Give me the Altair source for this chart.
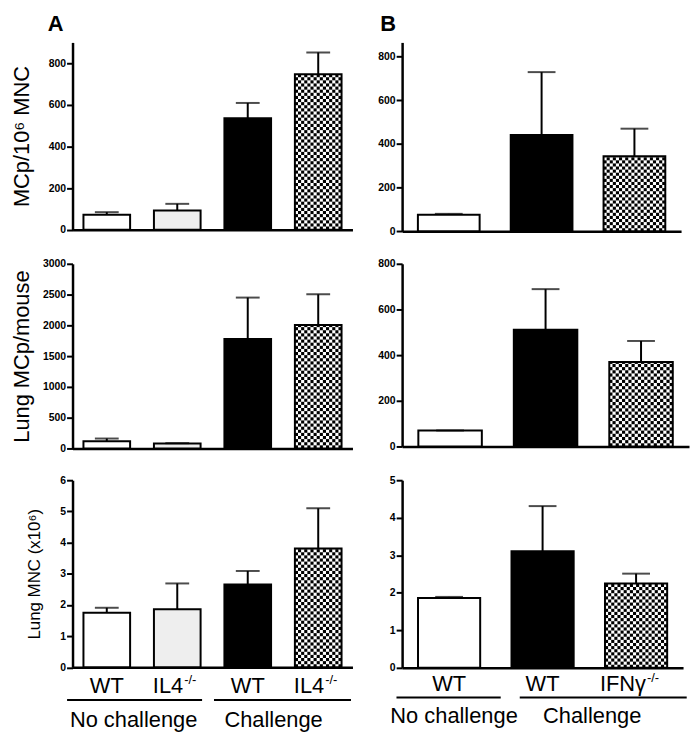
import math
import altair as alt
import pandas as pd

FONT = "Liberation Sans"

# ---------------- data ----------------
A_CATS = ["WT no challenge", "IL4-/- no challenge", "WT challenge", "IL4-/- challenge"]
A_LABEL = ["WT", "IL4", "WT", "IL4"]
A_SUP = ["", "-/-", "", "-/-"]

A1_MEAN = [72, 92, 535, 747]
A1_UPPER = [84, 124, 609, 852]
A2_MEAN = [117, 80, 1780, 2005]
A2_UPPER = [161, 86, 2451, 2504]
A3_MEAN = [1.75, 1.86, 2.66, 3.81]
A3_UPPER = [1.91, 2.69, 3.09, 5.10]

B_CATS = ["WT no challenge (B)", "WT challenge (B)", "IFNg-/- challenge"]
B_LABEL = ["WT", "WT", "IFNγ"]
B_SUP = ["", "", "-/-"]

B1_MEAN = [76, 441, 344]
B1_UPPER = [80, 729, 470]
B2_MEAN = [70, 511, 370]
B2_UPPER = [70, 689, 462]
B3_MEAN = [1.86, 3.11, 2.25]
B3_UPPER = [1.89, 4.31, 2.51]

A_GROUPS = [("No challenge", A_CATS[0], A_CATS[1]), ("Challenge", A_CATS[2], A_CATS[3])]
B_GROUPS = [("No challenge", B_CATS[0], B_CATS[0]), ("Challenge", B_CATS[1], B_CATS[2])]

# ---------------- styles ----------------
FILL = {
    A_CATS[0]: "white", A_CATS[1]: "#eeeeee", A_CATS[2]: "black", A_CATS[3]: "white",
    B_CATS[0]: "white", B_CATS[1]: "black", B_CATS[2]: "white",
}
CHECKER = {A_CATS[3], B_CATS[2]}


def y_axis(ticks, title, title_size, title_x, height):
    kw = dict(values=ticks, format="d", grid=False, domainColor="black", domainWidth=2.5,
              tickColor="black", tickWidth=2, tickSize=6, labelPadding=1,
              labelFont=FONT, labelFontSize=10.5, labelFontWeight="bold", labelColor="black")
    if title:
        kw.update(title=title, titleFont=FONT, titleFontSize=title_size, titleFontWeight="normal",
                  titleColor="black", titleX=title_x, titleY=height / 2, titleBaseline="middle",
                  titleAngle=270, titleAlign="center")
    else:
        kw.update(title=None)
    return alt.Axis(**kw)


def panel(cats, means, uppers, dmax, ticks, width, height, pi, po, ncols, cap,
          ytitle=None, title_size=22, title_x=-47, letter=None, letter_dx=-24,
          bottom=None):
    n = len(cats)
    step = width / (n - pi + 2 * po)
    bw = step * (1 - pi)
    cell_px = bw / ncols
    cell_h = cell_px * dmax / height

    df = pd.DataFrame({"cat": cats, "mean": means, "upper": uppers,
                       "fill": [FILL[c] for c in cats]})
    xs = alt.Scale(domain=cats, paddingInner=pi, paddingOuter=po)
    ys = alt.Scale(domain=[0, dmax], nice=False)
    xax = alt.Axis(labels=False, ticks=False, title=None, domainColor="black", domainWidth=2.5)
    yax = y_axis(ticks, ytitle, title_size, title_x, height)
    X = alt.X("cat:N", scale=xs, axis=xax, sort=cats)

    def Y(f):
        return alt.Y(f, type="quantitative", scale=ys, axis=yax)

    base = alt.Chart(df)
    bars = base.mark_bar(strokeWidth=0).encode(x=X, y=Y("mean"), color=alt.Color("fill:N", scale=None))

    cells = []
    for c, m in zip(cats, means):
        if c in CHECKER:
            nrows = math.ceil(m / cell_h)
            for r in range(nrows):
                for k in range(ncols):
                    if (r + k) % 2 == 0:
                        cells.append({"cat": c, "col": k, "y0": r * cell_h,
                                      "y1": min((r + 1) * cell_h, m)})
    cdf = pd.DataFrame(cells)
    checker = alt.Chart(cdf).mark_rect(color="black", strokeWidth=0).encode(
        x=X,
        xOffset=alt.XOffset("col:O", scale=alt.Scale(domain=list(range(ncols)),
                                                      paddingInner=0, paddingOuter=0)),
        y=Y("y0"), y2="y1")

    outline = base.mark_bar(fillOpacity=0, stroke="black", strokeWidth=2).encode(x=X, y=Y("mean"))
    err = base.mark_rule(color="black", strokeWidth=2).encode(x=X, y=Y("mean"), y2="upper")
    caps = base.mark_tick(color="black", size=cap, thickness=2).encode(x=X, y=Y("upper"))

    layers = [bars, checker, outline, err, caps]

    if letter:
        layers.append(alt.Chart(pd.DataFrame({"t": [letter]})).mark_text(
            font=FONT, fontSize=22, fontWeight="bold", align="left", baseline="top", color="black"
        ).encode(x=alt.value(letter_dx), y=alt.value(-29), text="t:N"))

    if bottom is not None:
        labels, sups, groups, gstyle, yl = bottom
        ldf = pd.DataFrame({"cat": cats, "label": labels, "sup": sups})
        lb = alt.Chart(ldf)
        plain = lb.transform_filter("datum.sup == ''").mark_text(
            font=FONT, fontSize=22, baseline="alphabetic", align="center", color="black"
        ).encode(x=X, y=alt.value(height + yl["label"]), text="label:N")
        main = lb.transform_filter("datum.sup != ''").mark_text(
            font=FONT, fontSize=22, baseline="alphabetic", align="right", color="black",
            dx=yl["supdx"]).encode(x=X, y=alt.value(height + yl["label"]), text="label:N")
        sup = lb.transform_filter("datum.sup != ''").mark_text(
            font=FONT, fontSize=13, baseline="alphabetic", align="left", color="black",
            dx=yl["supdx"] + 1).encode(x=X, y=alt.value(height + yl["sup"]), text="sup:N")
        layers += [plain, main, sup]
        for (glabel, c1, c2), (offl, offr, ldx) in zip(groups, gstyle):
            gdf = pd.DataFrame({"cat": [c1], "cat2": [c2], "label": [glabel]})
            g = alt.Chart(gdf)
            line = g.mark_rule(color="black", strokeWidth=2, xOffset=offl, x2Offset=offr).encode(
                x=X, x2="cat2:N", y=alt.value(height + yl["line"]))
            gtxt = g.mark_text(font=FONT, fontSize=22, baseline="alphabetic", align="center",
                               color="black", dx=ldx).encode(
                x=X, y=alt.value(height + yl["group"]), text="label:N")
            layers += [line, gtxt]

    return alt.layer(*layers).properties(width=width, height=height)


A_PI, A_PO = 0.338, 0.155
B_PI, B_PO = 0.335, 0.17

a1 = panel(A_CATS, A1_MEAN, A1_UPPER, 900, [0, 200, 400, 600, 800], 282, 188.6, A_PI, A_PO, 15, 24,
           ytitle="MCp/10⁶ MNC", title_size=22, title_x=-51, letter="A", letter_dx=-25)
a2 = panel(A_CATS, A2_MEAN, A2_UPPER, 3000, [0, 500, 1000, 1500, 2000, 2500, 3000], 282, 186, A_PI, A_PO, 15, 24,
           ytitle="Lung MCp/mouse", title_size=22, title_x=-51)
a3 = panel(A_CATS, A3_MEAN, A3_UPPER, 6, [0, 1, 2, 3, 4, 5, 6], 282, 188.5, A_PI, A_PO, 15, 24,
           ytitle="Lung MNC (x10⁶)", title_size=17, title_x=-38,
           bottom=(A_LABEL, A_SUP, A_GROUPS, [(-40, 25, 27), (-34, 33, 26)],
                   {"label": 25.5, "sup": 16.5, "line": 33, "group": 60, "supdx": 6}))

b1 = panel(B_CATS, B1_MEAN, B1_UPPER, 865, [0, 200, 400, 600, 800], 281, 190.3, B_PI, B_PO, 20, 28,
           letter="B", letter_dx=-22)
b2 = panel(B_CATS, B2_MEAN, B2_UPPER, 800, [0, 200, 400, 600, 800], 289, 184, B_PI, B_PO, 20, 28)
b3 = panel(B_CATS, B3_MEAN, B3_UPPER, 5, [0, 1, 2, 3, 4, 5], 283, 189, B_PI, B_PO, 20, 28,
           bottom=(B_LABEL, B_SUP, B_GROUPS, [(-53, 52, 5), (-23, 51, 50)],
                   {"label": 23, "sup": 14, "line": 30, "group": 56, "supdx": 10}))

chart = alt.concat(
    a1, b1, a2, b2, a3, b3, columns=2, bounds="flush",
    spacing=alt.RowColnumber(row=32, column=50),
).resolve_scale(
    x="independent", y="independent", xOffset="independent"
).properties(
    padding={"left": 2, "top": 2, "right": 2, "bottom": 2},
    background="white",
).configure_view(stroke=None)

chart.save("out.html", embed_options={"renderer": "svg", "actions": False})
